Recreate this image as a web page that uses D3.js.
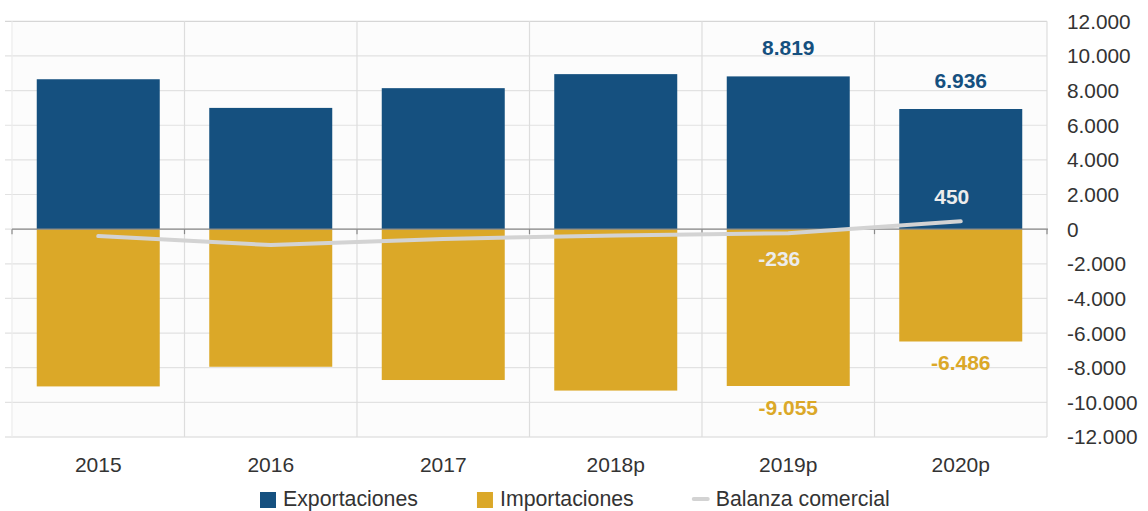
<!DOCTYPE html>
<html><head><meta charset="utf-8">
<script src="https://cdn.jsdelivr.net/npm/d3@7"></script>
<style>
body{margin:0;background:#fff;}
svg{display:block;font-family:"Liberation Sans",Arial,sans-serif;}
</style></head>
<body>
<svg id="chart" width="1148" height="511"></svg>
<script>
const years = ["2015","2016","2017","2018p","2019p","2020p"];
const exportaciones = [8655, 7000, 8140, 8950, 8819, 6936];
const importaciones = [-9080, -7945, -8710, -9320, -9055, -6486];
const balanza = [-400, -920, -565, -360, -236, 450];
const yTicks = [12000,10000,8000,6000,4000,2000,0,-2000,-4000,-6000,-8000,-10000,-12000];
const labeledYears = ["2019p","2020p"];
const seriesNames = ["Exportaciones","Importaciones","Balanza comercial"];

const C_EXP = "#15507f", C_IMP = "#dba828", C_BAL = "#d3d3d3";
const loc = d3.formatLocale({decimal:",", thousands:".", grouping:[3], currency:["",""], minus:"-"});
const fmt = loc.format(",d");

const svg = d3.select("#chart");
const L = 12, R = 1047, T = 21.3, B = 437;
const x = d3.scaleBand().domain(years).range([L, R]).paddingInner(0.287).paddingOuter(0.1435);
const y = d3.scaleLinear().domain([-12000, 12000]).range([B, T]);
const step = x.step();

// background
svg.append("rect").attr("x", L).attr("y", T).attr("width", R - L).attr("height", B - T).attr("fill", "#fcfcfc");

// horizontal gridlines
svg.append("g").selectAll("line").data(yTicks).join("line")
  .attr("x1", 5).attr("x2", R).attr("y1", d => y(d)).attr("y2", d => y(d))
  .attr("stroke", d => d === 12000 || d === -12000 ? "#d6d6d6" : "#e2e2e2").attr("stroke-width", 1.2);

// vertical gridlines at category boundaries
const bounds = years.map((d, i) => L + i * step).concat([R]);
svg.append("g").selectAll("line").data(bounds).join("line")
  .attr("x1", d => d).attr("x2", d => d).attr("y1", T).attr("y2", B)
  .attr("stroke", (d, i) => i === 0 ? "#ececec" : "#dddddd").attr("stroke-width", 1.2);

// bars
svg.append("g").selectAll("rect").data(years).join("rect")
  .attr("x", d => x(d)).attr("width", x.bandwidth())
  .attr("y", (d, i) => y(exportaciones[i])).attr("height", (d, i) => y(0) - y(exportaciones[i]))
  .attr("fill", C_EXP);
svg.append("g").selectAll("rect").data(years).join("rect")
  .attr("x", d => x(d)).attr("width", x.bandwidth())
  .attr("y", y(0)).attr("height", (d, i) => y(importaciones[i]) - y(0))
  .attr("fill", C_IMP);

// zero line + ticks
svg.append("line").attr("x1", L).attr("x2", R + 1).attr("y1", y(0)).attr("y2", y(0))
  .attr("stroke", "#8a8a8a").attr("stroke-width", 1.2);
svg.append("g").selectAll("line").data(bounds).join("line")
  .attr("x1", d => d).attr("x2", d => d).attr("y1", y(0)).attr("y2", y(0) + 5)
  .attr("stroke", "#8a8a8a").attr("stroke-width", 1.2);

// balance line
const line = d3.line().x((d, i) => x(years[i]) + x.bandwidth() / 2).y(d => y(d));
svg.append("path").datum(balanza).attr("d", line).attr("fill", "none")
  .attr("stroke", C_BAL).attr("stroke-width", 4).attr("stroke-linecap", "round").attr("stroke-linejoin", "round");

// y axis labels
svg.append("g").selectAll("text").data(yTicks).join("text")
  .attr("x", 1067).attr("y", d => y(d)).attr("dy", "0.36em")
  .attr("font-size", 20.8).attr("fill", "#333").text(d => fmt(d));

// x axis labels
svg.append("g").selectAll("text").data(years).join("text")
  .attr("x", d => x(d) + x.bandwidth() / 2).attr("y", 472)
  .attr("text-anchor", "middle").attr("font-size", 21).attr("fill", "#333").text(d => d);

// data labels
const lab = svg.append("g").attr("font-weight", "bold").attr("font-size", 21).attr("text-anchor", "middle");
years.forEach((yr, i) => {
  if (!labeledYears.includes(yr)) return;
  const cx = x(yr) + x.bandwidth() / 2;
  lab.append("text").attr("x", cx).attr("y", y(exportaciones[i]) - 21.5).attr("fill", C_EXP).text(fmt(exportaciones[i]));
  lab.append("text").attr("x", cx).attr("y", y(importaciones[i]) + 29).attr("fill", C_IMP).text(fmt(importaciones[i]));
  const b = balanza[i];
  lab.append("text").attr("x", cx - 9).attr("y", b < 0 ? y(b) + 32.5 : y(b) - 17.5).attr("fill", "#ececec").text(fmt(b));
});

// legend
const leg = svg.append("g").attr("font-size", 21.3).attr("fill", "#333");
let lx = 260;
seriesNames.forEach((name, i) => {
  if (i < 2) {
    leg.append("rect").attr("x", lx).attr("y", 492).attr("width", 16).attr("height", 16)
      .attr("fill", i === 0 ? C_EXP : C_IMP);
  } else {
    leg.append("line").attr("x1", lx + 1).attr("x2", lx + 15).attr("y1", 499).attr("y2", 499)
      .attr("stroke", C_BAL).attr("stroke-width", 4).attr("stroke-linecap", "round");
  }
  const t = leg.append("text").attr("x", lx + 23).attr("y", 506).text(name);
  lx = lx + 23 + t.node().getComputedTextLength() + 59;
});
</script>
</body></html>
